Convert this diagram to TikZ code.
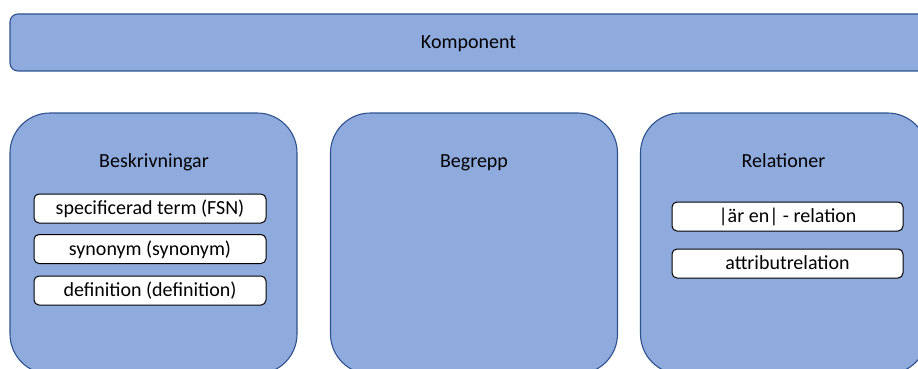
\documentclass[tikz,border=0pt]{standalone}
\usepackage{fontspec}
\setmainfont{Carlito}
\definecolor{boxfill}{HTML}{8FAADC}
\definecolor{boxline}{HTML}{2F528F}
\tikzset{
  panel/.style={draw=boxline, fill=boxfill, line width=1.1pt, rounded corners=40pt,
    minimum width=287pt, minimum height=261pt, inner sep=0pt},
  banner/.style={draw=boxline, fill=boxfill, line width=1.1pt, rounded corners=8pt,
    minimum width=917pt, minimum height=57pt, inner sep=0pt},
  itembox/.style={draw=black, fill=white, line width=1pt, rounded corners=5pt,
    minimum width=232pt, minimum height=29pt, inner sep=0pt},
  label/.style={font=\fontsize{20}{24}\selectfont, text=black, inner sep=0pt},
  centred/.style={text height=13pt, text depth=0.5pt},
}
\begin{document}
\begin{tikzpicture}[x=1pt,y=-1pt]
  \useasboundingbox (0,0) rectangle (918,369);
  \clip (0,0) rectangle (918,369);

  % top banner
  \node[banner, label, centred] (komp) at (468.5,42.5) {Komponent};

  % three panels
  \node[panel] (beskr) at (153.5,243.5) {};
  \node[panel] (begr) at (474,243.5) {};
  \node[panel] (rel) at (784,243.5) {};

  % panel titles
  \node[label, anchor=base] (tbeskr) at (154,167) {Beskrivningar};
  \node[label, anchor=base] (tbegr) at (474,167) {Begrepp};
  \node[label, anchor=base] (trel) at (783.5,167) {Relationer};

  % items in Beskrivningar
  \node[itembox, label, centred] (fsn) at (150,208.5) {specificerad term (FSN)};
  \node[itembox, label, centred] (syn) at (150,249) {synonym (synonym)};
  \node[itembox, label, centred] (def) at (150,290.5) {definition (definition)};

  % items in Relationer
  \node[itembox, label, centred, minimum width=231pt] (isa) at (787.5,216.5) {|är en| - relation};
  \node[itembox, label, centred, minimum width=231pt] (attr) at (787.5,263.5) {attributrelation};
\end{tikzpicture}
\end{document}
